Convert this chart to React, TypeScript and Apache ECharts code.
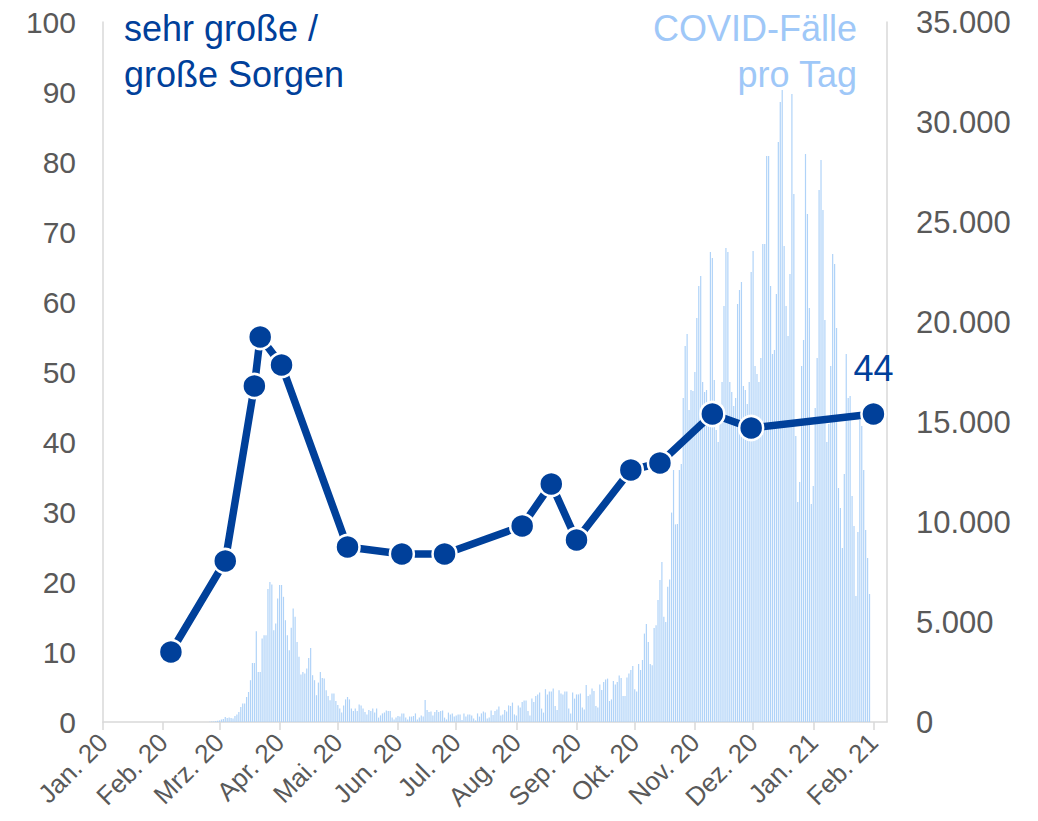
import React, { useEffect, useRef } from "react";
import * as echarts from "echarts";

// ---------- DATA ----------
const AXIS_START = "2020-01-01";
const AXIS_END = "2021-02-08";

const CASES_START = "2020-02-24";
// daily COVID cases, one value per day starting 2020-02-24
const dailyCases = [
  5, 10, 20, 30, 40, 60, 80,
  120, 150, 250, 200, 220, 200, 180,
  300, 370, 500, 750, 920, 920, 1250,
  1500, 2090, 2950, 2950, 4540, 2500, 2500,
  4170, 4340, 4340, 6650, 7000, 6880, 4590,
  4930, 6180, 6850, 6850, 6260, 5090, 4340,
  3590, 4710, 5680, 5260, 4000, 3260, 2370,
  2500, 2420, 2670, 3200, 3700, 2340, 2090,
  1340, 1970, 2500, 2200, 2170, 1590, 1300,
  1090, 1420, 1430, 1050, 850, 670, 470,
  830, 1130, 1250, 1130, 680, 550, 670,
  550, 880, 830, 680, 500, 380, 600,
  550, 680, 470, 670, 220, 330, 430,
  470, 580, 550, 550, 220, 130, 220,
  300, 270, 430, 430, 220, 130, 270,
  270, 300, 430, 130, 220, 330, 270,
  1100, 600, 500, 520, 330, 500, 600,
  500, 550, 580, 220, 130, 470, 380,
  430, 270, 330, 380, 380, 100, 430,
  270, 370, 370, 330, 170, 80, 430,
  270, 430, 530, 470, 180, 230, 580,
  350, 550, 630, 770, 330, 370, 600,
  530, 830, 800, 970, 380, 330, 830,
  720, 1000, 1080, 1080, 550, 330, 1170,
  1000, 1300, 1380, 1470, 670, 470, 1640,
  1380, 1520, 1530, 1670, 800, 600, 1590,
  1420, 1380, 1520, 1520, 670, 430, 1470,
  1170, 1380, 1380, 1430, 720, 630, 1850,
  1300, 1380, 1670, 1550, 800, 720, 1880,
  1600, 2000, 2130, 2170, 1050, 1130, 2050,
  1880, 2000, 2330, 2200, 1300, 1300, 2220,
  2420, 2600, 2800, 1640, 1520, 2900, 2600,
  3100, 4420, 4900, 4000, 2900, 2840, 4700,
  4840, 6100, 7100, 8000, 5260, 5000, 6760,
  7130, 10470, 12600, 9880, 9900, 12600, 12900,
  16200, 18800, 19400, 15600, 16600, 16550, 17500,
  20200, 21800, 22300, 17000, 16500, 16600, 15600,
  23500, 23200, 17100, 14600, 14000, 15500, 17000,
  20800, 23700, 23500, 17000, 16500, 15800, 16200,
  20900, 21600, 22000, 16800, 16600, 15900, 17000,
  22500, 23550, 17800, 17400, 17000, 18200, 23900,
  23900, 28300, 28300, 21800, 18400, 18600, 21400,
  29000, 31000, 31600, 23800, 20800, 19300, 22400,
  31400, 26400, 14300, 11000, 12000, 17800, 19100,
  28400, 25400, 20700, 10900, 11800, 15700, 18200,
  26600, 28100, 25600, 20100, 14000, 14900, 17800,
  23400, 22900, 19700, 11700, 10700, 8700, 12400,
  18400, 16200, 16300, 11300, 9800, 6300, 9500,
  15100, 14800, 12600, 9600, 8200, 6400,
];

// survey: "sehr große / große Sorgen" (%)
const surveyDates = [
  "2020-02-05", "2020-03-04", "2020-03-19", "2020-03-22", "2020-04-02",
  "2020-05-06", "2020-06-03", "2020-06-25", "2020-08-04", "2020-08-19",
  "2020-09-01", "2020-09-29", "2020-10-14", "2020-11-10", "2020-11-30",
  "2021-02-01",
];
const surveyValues = [10, 23, 48, 55, 51, 25, 24, 24, 28, 34, 26, 36, 37, 44, 42, 44];

const monthTickDates = [
  "2020-01-01", "2020-02-01", "2020-03-01", "2020-04-01", "2020-05-01",
  "2020-06-01", "2020-07-01", "2020-08-01", "2020-09-01", "2020-10-01",
  "2020-11-01", "2020-12-01", "2021-01-01", "2021-02-01",
];
const monthTickLabels = [
  "Jan. 20", "Feb. 20", "Mrz. 20", "Apr. 20", "Mai. 20", "Jun. 20", "Jul. 20",
  "Aug. 20", "Sep. 20", "Okt. 20", "Nov. 20", "Dez. 20", "Jan. 21", "Feb. 21",
];

const leftAxis = { min: 0, max: 100, interval: 10 };
const rightAxis = { min: 0, max: 35000, interval: 5000 };

const titleLeft = ["sehr große /", "große Sorgen"];
const titleRight = ["COVID-Fälle", "pro Tag"];

// ---------- HELPERS ----------
function dayList(start: string, end: string): string[] {
  const out: string[] = [];
  let t = Date.parse(start + "T00:00:00Z");
  const e = Date.parse(end + "T00:00:00Z");
  while (t <= e) {
    out.push(new Date(t).toISOString().slice(0, 10));
    t += 86400000;
  }
  return out;
}

const DARK = "#00409a";
const LIGHT = "#9fc8f8";
const GREY = "#595959";
const AXIS_GREY = "#d9d9d9";
const FONT = "Liberation Sans, Arial, sans-serif";

export default function App() {
  const ref = useRef<HTMLDivElement>(null);

  useEffect(() => {
    if (!ref.current) return;
    const chart = echarts.init(ref.current, undefined, { renderer: "svg" });

    const categories = dayList(AXIS_START, AXIS_END);
    const idx: Record<string, number> = {};
    categories.forEach((d, i) => (idx[d] = i));

    const barData: (number | null)[] = categories.map(() => null);
    const off = idx[CASES_START];
    dailyCases.forEach((v, i) => {
      if (off + i < barData.length) barData[off + i] = v;
    });

    const lineData: any[] = categories.map(() => null);
    surveyDates.forEach((d, i) => {
      const isLast = i === surveyDates.length - 1;
      lineData[idx[d]] = isLast
        ? {
            value: surveyValues[i],
            label: {
              show: true,
              position: "top",
              distance: 14,
              fontSize: 36,
              color: DARK,
              fontFamily: FONT,
              formatter: "{c}",
            },
          }
        : surveyValues[i];
    });

    const labelMap: Record<string, string> = {};
    monthTickDates.forEach((d, i) => (labelMap[d] = monthTickLabels[i]));
    const isTick = (_i: number, v: string) => v in labelMap;

    const fmtDE = (v: number) =>
      String(v).replace(/\B(?=(\d{3})+(?!\d))/g, ".");

    const titleStyle = (text: string, fill: string, align: string) => ({
      text,
      fill,
      font: `36px ${FONT}`,
      align,
      verticalAlign: "top",
    });

    chart.setOption({
      animation: false,
      grid: { left: 103, right: 151, top: 22, bottom: 99, containLabel: false },
      xAxis: {
        type: "category",
        data: categories,
        boundaryGap: false,
        axisLine: { show: true, lineStyle: { color: AXIS_GREY, width: 1.5 } },
        axisTick: {
          show: true,
          interval: isTick,
          length: 8,
          lineStyle: { color: AXIS_GREY, width: 1.5 },
        },
        axisLabel: {
          interval: isTick,
          formatter: (v: string) => labelMap[v] ?? "",
          rotate: 45,
          fontSize: 26,
          color: GREY,
          fontFamily: FONT,
          margin: 16,
        },
        splitLine: { show: false },
      },
      yAxis: [
        {
          type: "value",
          position: "left",
          min: leftAxis.min,
          max: leftAxis.max,
          interval: leftAxis.interval,
          axisLine: { show: true, lineStyle: { color: AXIS_GREY, width: 1.5 } },
          axisTick: { show: false },
          splitLine: { show: false },
          axisLabel: { fontSize: 30, color: GREY, fontFamily: FONT, margin: 27 },
        },
        {
          type: "value",
          position: "right",
          min: rightAxis.min,
          max: rightAxis.max,
          interval: rightAxis.interval,
          axisLine: { show: true, lineStyle: { color: AXIS_GREY, width: 1.5 } },
          axisTick: { show: false },
          splitLine: { show: false },
          axisLabel: {
            fontSize: 31,
            color: GREY,
            fontFamily: FONT,
            margin: 29,
            formatter: (v: number) => fmtDE(v),
          },
        },
      ],
      series: [
        {
          type: "bar",
          yAxisIndex: 1,
          data: barData,
          barWidth: 1.2,
          itemStyle: { color: "#b0d3f8" },
          silent: true,
          z: 1,
        },
        {
          type: "line",
          yAxisIndex: 0,
          data: lineData,
          connectNulls: true,
          showAllSymbol: true,
          lineStyle: { color: DARK, width: 7.5 },
          symbol: "circle",
          symbolSize: 24,
          itemStyle: { color: DARK, borderColor: "#ffffff", borderWidth: 2.5 },
          z: 3,
        },
      ],
      graphic: [
        { type: "text", x: 124, y: 10, style: titleStyle(titleLeft[0], DARK, "left") },
        { type: "text", x: 124, y: 56, style: titleStyle(titleLeft[1], DARK, "left") },
        { type: "text", x: 857, y: 10, style: titleStyle(titleRight[0], LIGHT, "right") },
        { type: "text", x: 857, y: 56, style: titleStyle(titleRight[1], LIGHT, "right") },
      ],
    });

    return () => chart.dispose();
  }, []);

  return (
    <div
      ref={ref}
      style={{ position: "fixed", left: 0, top: 0, width: 1038, height: 821, background: "#fff" }}
    />
  );
}
